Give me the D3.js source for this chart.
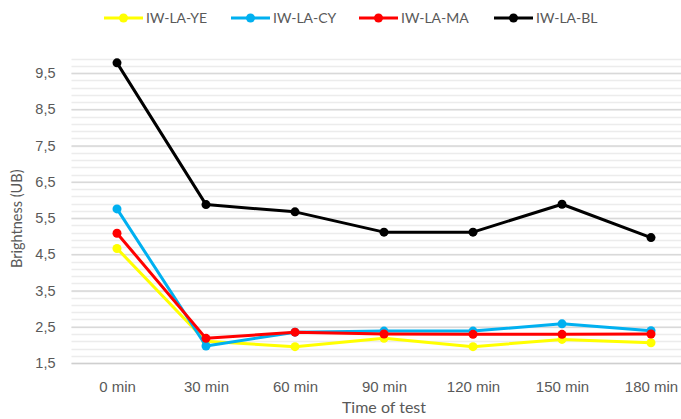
<!DOCTYPE html>
<html>
<head>
<meta charset="utf-8">
<script src="https://cdn.jsdelivr.net/npm/d3@7"></script>
<style>
  html, body { margin: 0; padding: 0; background: #fff; }
  svg { display: block; font-family: Lato, "Open Sans", sans-serif; }
</style>
</head>
<body>
<svg id="chart" width="681" height="419"></svg>
<script>
// Brightness over test time for four ink samples
const categories = ["0 min", "30 min", "60 min", "90 min", "120 min", "150 min", "180 min"];
const seriesNames = ["IW-LA-YE", "IW-LA-CY", "IW-LA-MA", "IW-LA-BL"];
const seriesColors = ["#FFFF00", "#00B0F0", "#FF0000", "#000000"];
const valuesYE = [4.66, 2.1, 1.95, 2.18, 1.95, 2.15, 2.06];
const valuesCY = [5.75, 1.97, 2.35, 2.38, 2.38, 2.58, 2.39];
const valuesMA = [5.08, 2.18, 2.35, 2.3, 2.29, 2.29, 2.3];
const valuesBL = [9.78, 5.87, 5.67, 5.11, 5.11, 5.88, 4.96];
const yTicks = [1.5, 2.5, 3.5, 4.5, 5.5, 6.5, 7.5, 8.5, 9.5];
const yDomain = [1.5, 9.9];
const yTitle = "Brightness (UB)";
const xTitle = "Time of test";

const series = [valuesYE, valuesCY, valuesMA, valuesBL].map((vals, i) => ({
  name: seriesNames[i],
  color: seriesColors[i],
  values: vals
}));

const svg = d3.select("#chart");
const plot = { left: 72.5, right: 695.5, top: 58.5, bottom: 363 };

const x = d3.scalePoint().domain(categories).range([plot.left, plot.right]).padding(0.5);
const y = d3.scaleLinear().domain(yDomain).range([plot.bottom, plot.top]);

// minor gridlines every 0.2, major ones at the labelled ticks
const minor = d3.range(0, 43).map(i => +(yDomain[0] + i * 0.2).toFixed(1));
svg.append("g").selectAll("line").data(minor).join("line")
  .attr("x1", plot.left - 1).attr("x2", plot.right)
  .attr("y1", d => Math.round(y(d)) + 0.5).attr("y2", d => Math.round(y(d)) + 0.5)
  .attr("stroke", "#ececec").attr("stroke-width", 1.5);

const yAxis = d3.axisLeft(y).tickValues(yTicks)
  .tickFormat(d => d3.format(".1f")(d).replace(".", ","))
  .tickSize(-(plot.right - plot.left + 1)).tickPadding(16);
const gy = svg.append("g").attr("transform", `translate(${plot.left - 1},0)`).call(yAxis);
gy.select(".domain").remove();
gy.selectAll(".tick line").attr("stroke", d => d === yDomain[0] ? "#cfcfcf" : "#d9d9d9").attr("stroke-width", 1.5);
gy.selectAll(".tick text").attr("fill", "#595959").style("font-size", "14.5px");

const xAxis = d3.axisBottom(x).tickSize(0).tickPadding(18);
const gx = svg.append("g").attr("transform", `translate(0,${plot.bottom})`).call(xAxis);
gx.select(".domain").remove();
gx.selectAll(".tick text").attr("fill", "#595959").style("font-size", "15px");

// axis titles
svg.append("text")
  .attr("transform", `translate(22,${(plot.top + plot.bottom) / 2 + 8}) rotate(-90)`)
  .attr("text-anchor", "middle").attr("fill", "#595959").style("font-size", "14.5px")
  .text(yTitle);
svg.append("text")
  .attr("x", (plot.left + plot.right) / 2).attr("y", 413)
  .attr("text-anchor", "middle").attr("fill", "#595959").style("font-size", "16px")
  .text(xTitle);

// series lines and markers
const line = d3.line().x((d, i) => x(categories[i])).y(d => y(d));
const gs = svg.append("g").selectAll("g").data(series).join("g");
gs.append("path")
  .attr("d", d => line(d.values))
  .attr("fill", "none").attr("stroke", d => d.color)
  .attr("stroke-width", 3).attr("stroke-linejoin", "round");
gs.selectAll("circle").data(d => d.values.map((v, i) => ({ v, i, color: d.color })))
  .join("circle")
  .attr("cx", d => x(categories[d.i])).attr("cy", d => y(d.v))
  .attr("r", 4.5).attr("fill", d => d.color);

// legend
const legendX = [104, 231, 359, 494];
const lg = svg.append("g").selectAll("g").data(series).join("g")
  .attr("transform", (d, i) => `translate(${legendX[i]},18)`);
lg.append("line").attr("x1", 0).attr("x2", 39).attr("y1", 0).attr("y2", 0)
  .attr("stroke", d => d.color).attr("stroke-width", 3);
lg.append("circle").attr("cx", 19.5).attr("cy", 0).attr("r", 4.5).attr("fill", d => d.color);
lg.append("text").attr("x", 42).attr("y", 5)
  .attr("fill", "#595959").style("font-size", "14px")
  .text(d => d.name);
</script>
</body>
</html>
